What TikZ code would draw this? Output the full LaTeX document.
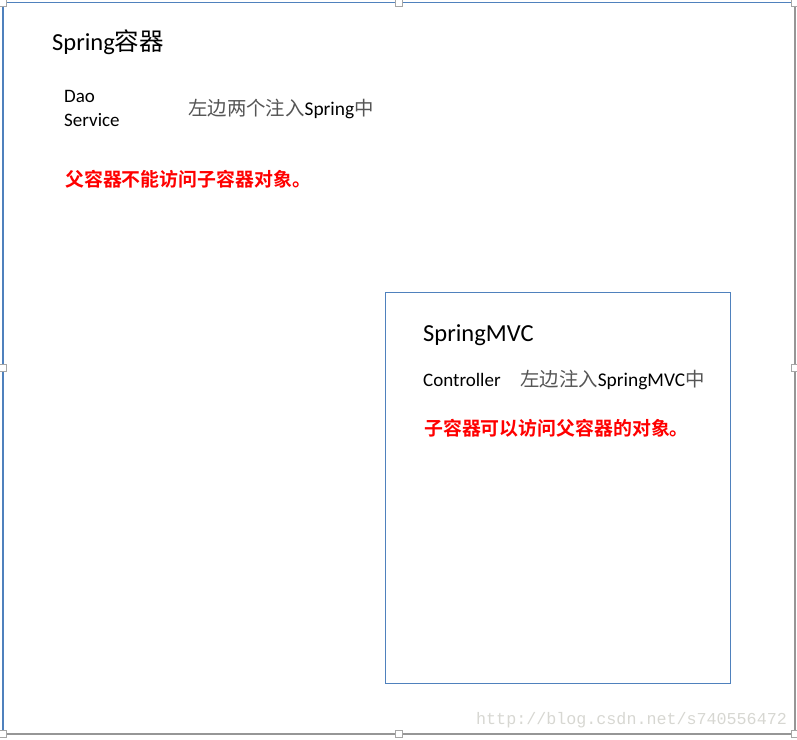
\documentclass[tikz,border=0pt]{standalone}
\usepackage{fontspec}
\setmainfont{Carlito}
\newfontfamily\cjk{Noto Sans CJK SC}
\newfontfamily\cjkb{Noto Sans CJK SC}[BoldFont={Noto Sans CJK SC Bold}]
\newfontfamily\wmfont{Liberation Mono}
\definecolor{frameblue}{RGB}{79,129,189}
\definecolor{framegray}{RGB}{150,150,150}
\definecolor{notegray}{RGB}{85,85,85}
\definecolor{wmgray}{RGB}{215,215,210}
\tikzset{
  txt/.style={anchor=base west, inner sep=0pt, text=black},
  title/.style={txt, font=\fontsize{24.5}{28}\selectfont},
  body/.style={txt, font=\fontsize{19}{24}\selectfont},
  note/.style={txt, font=\fontsize{19.4}{24}\selectfont\cjk, text=notegray},
  warn/.style={txt, font=\fontsize{18.9}{24}\selectfont\cjkb\bfseries, text=red},
  handle/.style={draw=framegray!85, fill=white, line width=1pt, minimum size=7pt, inner sep=0pt},
}
\begin{document}
\begin{tikzpicture}[x=1pt,y=-1pt]
\useasboundingbox (0,0) rectangle (797,739);
% outer frame
\draw[framegray, line width=1.5pt] (795,2.5) -- (795,734) -- (3,734);
\draw[frameblue, line width=1.5pt] (3,734) -- (3,2.5) -- (795,2.5);
% inner box
\draw[frameblue, line width=1pt] (385.5,292.5) rectangle (730.5,683.5);
% handles
\foreach \n/\p in {h1/{(3,3)},h2/{(399,3)},h3/{(795,3)},h4/{(3,368)},h5/{(795,368)},h6/{(3,734)},h7/{(399,734)},h8/{(795,734)}}
  \node[handle] (\n) at \p {};
% texts
\node[title] (t1) at (52,50) {Spring{\cjk 容器}};
\node[body] (dao) at (64,102) {Dao};
\node[body] (svc) at (64,126) {Service};
\node[note] (n1) at (188,115) {左边两个注入{\rmfamily\color{black}Spring}中};
\node[warn] (w1) at (65,186) {父容器不能访问子容器对象。};
\node[title] (t2) at (423,341) {SpringMVC};
\node[body] (ctl) at (423,386) {Controller};
\node[note] (n2) at (520,386) {左边注入{\rmfamily\color{black}SpringMVC}中};
\node[warn] (w2) at (424,435) {子容器可以访问父容器的对象。};
\node[txt, font=\fontsize{16.7}{20}\selectfont\wmfont, text=wmgray] (wm) at (476,724) {http://blog.csdn.net/s740556472};
\end{tikzpicture}
\end{document}
